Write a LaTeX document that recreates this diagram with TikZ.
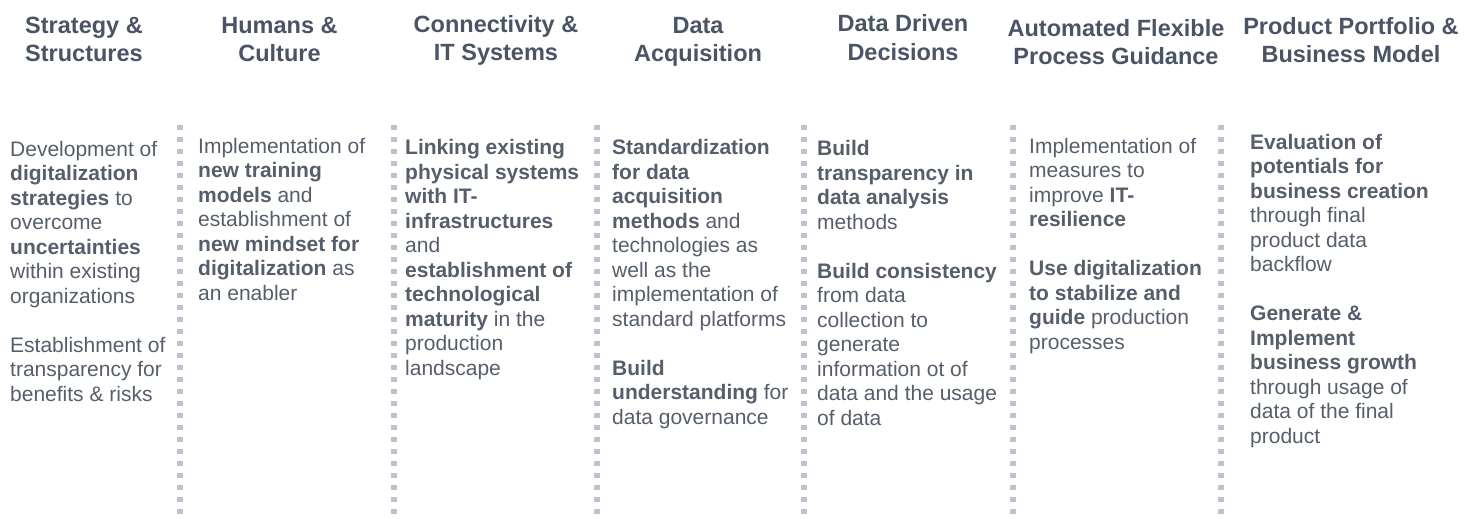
\documentclass[tikz,border=0pt]{standalone}
\usepackage{fontspec}
\setmainfont{Liberation Sans}
\definecolor{headgray}{HTML}{4A5464}
\definecolor{textgray}{HTML}{555E6A}
\definecolor{dotgray}{HTML}{BCC3CC}
\begin{document}
\begin{tikzpicture}[x=1pt,y=-1pt,
    head/.style={inner sep=0pt,anchor=base,align=center,text=headgray,
        font=\fontsize{23.5}{28.5}\selectfont\bfseries},
    body/.style={inner sep=0pt,anchor=base west,align=left,text=textgray,
        font=\fontsize{21}{24.5}\selectfont},
    sep/.style={dotgray,line width=6pt,dash pattern=on 4.5pt off 7.5pt}]
\useasboundingbox (0,0) rectangle (1475,519);
% dotted separators
\foreach \x [count=\i] in {180,394,597,804,1013,1221}
{
    \coordinate (st\i) at (\x,125);
    \coordinate (sb\i) at (\x,514);
    \draw[sep] (st\i)--(sb\i);
}
% column headers (placed by their last line)
\foreach \x/\y/\htext [count=\i] in {84/62/{Strategy \&\\Structures},
    279.5/62/{Humans \&\\Culture},496/61/{Connectivity \&\\IT Systems},
    698/62/{Data\\Acquisition},903/60/{Data Driven\\Decisions},
    1116/65/{Automated Flexible\\Process Guidance},1351/63/{Product Portfolio \&\\Business Model}}
{
    \node[head] (h\i) at (\x,\y) {\htext};
}
% column texts (placed by their last line)
\node[body] (strat) at (10,401) {Development of\\
    \textbf{digitalization}\\
    \textbf{strategies} to\\
    overcome\\
    \textbf{uncertainties}\\
    within existing\\
    organizations\\[24.5pt]
    Establishment of\\
    transparency for\\
    benefits \& risks};
\node[body] (human) at (198,300) {Implementation of\\
    \textbf{new training}\\
    \textbf{models} and\\
    establishment of\\
    \textbf{new mindset for}\\
    \textbf{digitalization} as\\
    an enabler};
\node[body] (conn) at (405,375) {\textbf{Linking existing}\\
    \textbf{physical systems}\\
    \textbf{with IT-}\\
    \textbf{infrastructures}\\
    and\\
    \textbf{establishment of}\\
    \textbf{technological}\\
    \textbf{maturity} in the\\
    production\\
    landscape};
\node[body] (acq) at (612,424) {\textbf{Standardization}\\
    \textbf{for data}\\
    \textbf{acquisition}\\
    \textbf{methods} and\\
    technologies as\\
    well as the\\
    implementation of\\
    standard platforms\\[24.5pt]
    \textbf{Build}\\
    \textbf{understanding} for\\
    data governance};
\node[body] (ddd) at (817,425) {\textbf{Build}\\
    \textbf{transparency in}\\
    \textbf{data analysis}\\
    methods\\[24.5pt]
    \textbf{Build consistency}\\
    from data\\
    collection to\\
    generate\\
    information ot of\\
    data and the usage\\
    of data};
\node[body] (afpg) at (1029,349) {Implementation of\\
    measures to\\
    improve \textbf{IT-}\\
    \textbf{resilience}\\[24.5pt]
    \textbf{Use digitalization}\\
    \textbf{to stabilize and}\\
    \textbf{guide} production\\
    processes};
\node[body] (ppbm) at (1250,443) {\textbf{Evaluation of}\\
    \textbf{potentials for}\\
    \textbf{business creation}\\
    through final\\
    product data\\
    backflow\\[24.5pt]
    \textbf{Generate \&}\\
    \textbf{Implement}\\
    \textbf{business growth}\\
    through usage of\\
    data of the final\\
    product};
\end{tikzpicture}
\end{document}
